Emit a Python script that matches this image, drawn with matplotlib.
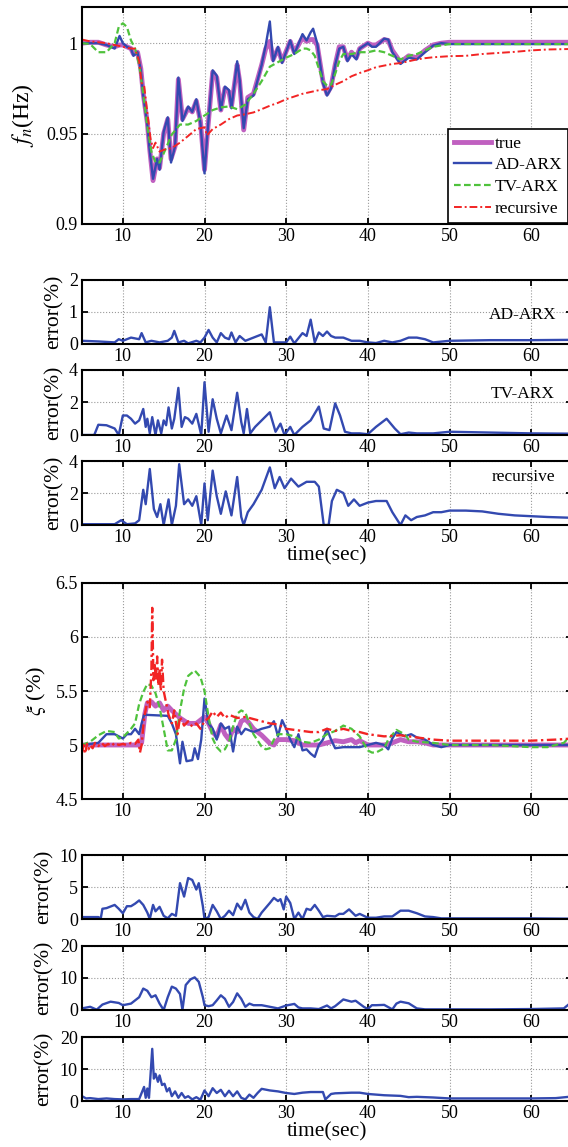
import matplotlib
matplotlib.use("Agg")
import matplotlib.pyplot as plt

plt.rcParams["font.family"] = ["Liberation Serif", "DejaVu Serif"]
plt.rcParams["mathtext.fontset"] = "stix"

# ---------------- natural frequency f_n (Hz) ----------------
t_fn_ad = [5, 6, 7, 8, 9, 9.6, 10, 10.5, 11, 11.3, 11.8, 12.2, 12.5, 13, 13.3, 13.7,
           14.2, 14.5, 15, 15.5, 15.9, 16.4, 16.8, 17.3, 18, 18.5, 19, 19.5, 20, 20.3,
           21, 21.5, 22, 22.5, 23, 23.3, 24, 24.3, 24.8, 25.3, 26, 27, 27.5, 28, 28.4,
           29, 29.5, 30.5, 31, 32, 32.5, 33, 33.3, 33.8, 34.5, 35, 35.5, 36, 36.5, 37,
           37.5, 38, 38.6, 39, 40, 40.5, 41, 42, 42.5, 43, 44, 45, 46, 47, 48, 49, 50,
           55, 60, 65]
fn_ad = [1.0, 1.0, 1.0, 0.999, 0.997, 1.004, 1.0, 0.998, 0.997, 0.993, 0.995, 0.985,
         0.971, 0.955, 0.94, 0.925, 0.936, 0.930, 0.951, 0.959, 0.934, 0.943, 0.981,
         0.957, 0.965, 0.962, 0.969, 0.956, 0.928, 0.947, 0.985, 0.982, 0.963, 0.976,
         0.974, 0.964, 0.990, 0.980, 0.953, 0.969, 0.971, 0.988, 0.999, 1.012, 0.990,
         0.998, 0.989, 1.0015, 0.994, 1.005, 1.0015, 1.006, 1.008, 1.0, 0.978, 0.971,
         0.975, 0.988, 0.997, 0.998, 0.990, 0.994, 0.991, 0.997, 1.0, 0.998, 0.998,
         1.0025, 1.002, 0.995, 0.9885, 0.992, 0.991, 0.995, 0.9987, 1.0, 0.9995,
         0.9995, 0.9995, 0.9995]
fn_true = [1.0, 1.0005, 1.0005, 0.999, 0.998, 0.999, 0.999, 0.998, 0.997, 0.994, 0.995,
           0.986, 0.972, 0.956, 0.941, 0.924, 0.936, 0.931, 0.950, 0.958, 0.936, 0.943,
           0.980, 0.958, 0.964, 0.962, 0.968, 0.957, 0.930, 0.947, 0.984, 0.981, 0.963,
           0.975, 0.973, 0.965, 0.988, 0.979, 0.952, 0.970, 0.972, 0.988, 0.997, 1.001,
           0.991, 0.997, 0.990, 1.001, 0.995, 1.003, 1.001, 1.002, 1.002, 0.999, 0.979,
           0.972, 0.976, 0.988, 0.998, 0.998, 0.991, 0.995, 0.992, 0.997, 1.0, 0.999,
           0.999, 1.002, 1.0015, 0.996, 0.9895, 0.993, 0.992, 0.996, 0.999, 1.0,
           1.0005, 1.0005, 1.0005, 1.0005]

t_fn_tv = [5, 6, 7, 8, 9, 9.5, 10, 10.5, 11, 11.5, 12, 12.5, 13, 13.5, 14, 14.5, 15,
           16, 17, 18, 19, 20, 21, 22, 23, 24, 25, 26, 27, 28, 29, 30, 31, 32, 32.5, 33,
           33.5, 34, 34.5, 35, 35.5, 36, 36.5, 37, 38, 39, 40, 41, 42, 43, 44, 45, 46,
           47, 48, 50, 55, 60, 65]
fn_tv = [1.0, 0.9995, 0.995, 0.995, 1.0, 1.009, 1.011, 1.009, 1.0015, 0.997, 0.988,
         0.972, 0.954, 0.940, 0.934, 0.934, 0.939, 0.9495, 0.955, 0.955, 0.957, 0.960,
         0.963, 0.9645, 0.965, 0.9635, 0.966, 0.972, 0.979, 0.987, 0.9895, 0.992,
         0.994, 0.997, 0.997, 0.996, 0.993, 0.986, 0.979, 0.9765, 0.977, 0.983, 0.990,
         0.994, 0.994, 0.995, 0.995, 0.996, 0.995, 0.993, 0.991, 0.993, 0.994, 0.996,
         0.998, 0.9995, 0.9995, 0.9995, 0.9995]

t_fn_rec = [5, 6, 8, 9, 10, 11, 11.5, 12, 12.3, 12.6, 13, 13.4, 13.7, 14, 14.5, 15,
            16, 17, 18, 19, 20, 20.3, 21, 22, 23, 24, 25, 26, 27, 28, 29, 30, 31, 32,
            33, 34, 35, 36, 37, 38, 39, 40, 41, 42, 43, 44, 45, 46, 47, 48, 50, 52, 54,
            56, 58, 60, 62, 65]
fn_rec = [1.002, 1.001, 1.0, 0.999, 0.998, 0.997, 0.997, 0.990, 0.978, 0.977, 0.9615,
          0.947, 0.942, 0.945, 0.940, 0.941, 0.942, 0.945, 0.9487, 0.9525, 0.9535,
          0.949, 0.9525, 0.955, 0.958, 0.960, 0.9607, 0.9617, 0.9635, 0.9654, 0.967,
          0.969, 0.9705, 0.972, 0.973, 0.974, 0.9746, 0.977, 0.979, 0.9817, 0.9835,
          0.985, 0.9867, 0.9876, 0.9885, 0.989, 0.990, 0.991, 0.9917, 0.9922, 0.9928,
          0.993, 0.994, 0.9946, 0.9952, 0.996, 0.9965, 0.9968]

# ---------------- f_n estimation errors (%) ----------------
t_efn_ad = [5, 7, 9, 9.5, 10, 11, 12, 12.3, 12.8, 13.5, 14.5, 15.5, 16, 16.3, 16.8, 17.5,
            18, 19, 19.5, 20, 20.5, 21, 21.5, 22, 22.5, 23, 23.3, 23.8, 24.3, 25, 26, 27,
            27.5, 28, 28.5, 29, 30, 30.5, 31, 32, 32.5, 33, 33.5, 34, 34.5, 35, 35.5, 36,
            37, 38, 39, 40, 41, 42, 43, 44, 45, 46, 47, 48, 50, 55, 60, 65]
efn_ad = [0.1, 0.08, 0.05, 0.15, 0.1, 0.2, 0.15, 0.34, 0.05, 0.1, 0.05, 0.1, 0.2, 0.41,
          0.05, 0.1, 0.02, 0.1, 0.05, 0.2, 0.44, 0.2, 0.05, 0.34, 0.2, 0.15, 0.36, 0.05,
          0.25, 0.1, 0.2, 0.3, 0.05, 1.15, 0.05, 0.05, 0.05, 0.23, 0.02, 0.34, 0.25,
          0.76, 0.05, 0.36, 0.25, 0.39, 0.25, 0.2, 0.2, 0.1, 0.1, 0.05, 0.03, 0.1, 0.05,
          0.1, 0.2, 0.2, 0.15, 0.05, 0.1, 0.12, 0.12, 0.13]

t_efn_tv = [5, 6.5, 7, 8, 9, 9.5, 10, 10.5, 11, 11.5, 12, 12.5, 12.8, 13, 13.3, 13.6, 14,
            14.3, 14.7, 15, 15.3, 15.6, 16, 16.3, 16.8, 17.2, 17.6, 18, 18.5, 19, 19.6,
            20, 20.5, 21, 21.5, 22, 22.7, 23.3, 24, 24.5, 24.8, 25.2, 25.6, 26.2, 27,
            28, 28.7, 29.3, 29.8, 30.5, 31, 32, 33, 34, 34.6, 35.3, 36, 36.6, 37.2, 38,
            39, 40, 41, 42.3, 43.3, 44, 45, 46, 48, 50, 55, 60, 65]
efn_tv = [0.0, 0.0, 0.63, 0.6, 0.4, 0.0, 1.2, 1.2, 1.0, 0.7, 0.9, 1.6, 0.5, 1.0, 0.1,
          1.1, 0.0, 0.9, 0.1, 0.9, 0.6, 1.7, 0.4, 1.0, 2.9, 0.5, 1.1, 1.0, 0.7, 1.3,
          0.0, 3.25, 0.2, 2.2, 1.0, 0.1, 1.2, 0.3, 2.6, 0.8, 0.1, 1.6, 0.1, 0.5, 0.9,
          1.4, 0.2, 0.7, 0.0, 0.5, 0.0, 0.5, 0.9, 1.75, 0.4, 0.3, 1.95, 1.2, 0.2, 0.1,
          0.1, 0.05, 0.5, 1.0, 0.4, 0.05, 0.15, 0.1, 0.1, 0.2, 0.15, 0.1, 0.08]

t_efn_rec = [5, 9, 9.8, 10.5, 11.5, 12, 12.5, 12.8, 13.3, 13.8, 14.2, 14.6, 15, 15.6, 16,
             16.5, 16.9, 17.5, 18, 18.5, 19, 19.6, 20, 20.4, 21, 21.5, 22, 22.6, 23.3,
             24, 24.5, 24.8, 25.3, 26, 27, 28, 28.6, 29.2, 29.8, 30.6, 31.5, 32.5, 33.5,
             34, 34.6, 35.2, 35.6, 36.2, 37, 37.6, 38.3, 39, 40, 41, 42.3, 43, 44, 44.6,
             45.3, 46, 47, 48, 49, 50, 52, 54, 56, 58, 60, 62, 65]
efn_rec = [0.05, 0.05, 0.3, 0.05, 0.1, 0.3, 2.2, 1.3, 3.5, 1.0, 0.5, 1.3, 0.0, 1.6, 0.0,
           1.2, 3.8, 1.3, 1.6, 1.2, 1.8, 0.0, 2.6, 0.3, 3.4, 1.8, 0.7, 2.1, 0.6, 3.0,
           0.5, 0.0, 0.8, 1.3, 2.2, 3.6, 2.3, 3.0, 2.3, 2.9, 2.4, 2.7, 2.7, 2.4, 0.0,
           0.0, 1.5, 2.2, 2.0, 1.2, 1.6, 1.2, 1.4, 1.5, 1.5, 0.8, 0.0, 0.6, 0.3, 0.5,
           0.6, 0.8, 0.8, 0.9, 0.9, 0.85, 0.7, 0.6, 0.55, 0.5, 0.45]

# ---------------- damping ratio xi (%) ----------------
t_xi_true = [5, 8, 12, 12.3, 12.7, 13, 13.5, 14, 14.5, 15, 15.5, 16, 17, 18, 19, 20,
             20.5, 21, 21.5, 22, 22.5, 23, 23.5, 24, 24.5, 25, 25.5, 26, 27, 28, 28.5,
             29, 30, 31, 32, 33, 34, 35, 36, 37, 38, 38.5, 39, 40, 41, 42, 43, 44, 45,
             46, 47, 48, 50, 55, 60, 65]
xi_true = [5.0, 5.0, 5.0, 5.02, 5.29, 5.39, 5.40, 5.36, 5.39, 5.32, 5.36, 5.32, 5.25,
           5.2, 5.2, 5.26, 5.2, 5.12, 5.08, 5.185, 5.10, 5.05, 5.15, 5.12, 5.22, 5.24,
           5.2, 5.15, 5.09, 5.015, 5.0, 5.05, 5.05, 5.04, 5.0, 5.0, 5.0, 5.02, 5.04,
           5.03, 5.05, 5.02, 5.04, 5.0, 5.0, 5.0, 5.02, 5.05, 5.03, 5.03, 5.02, 5.0,
           5.0, 5.0, 5.0, 5.0]

t_xi_ad = [5, 7, 8, 9, 10, 10.5, 11, 11.5, 12, 12.3, 12.6, 15.5, 16, 16.5, 17, 17.3,
           17.8, 18.5, 18.8, 19.2, 19.6, 20, 20.5, 21, 21.5, 22, 22.5, 23, 23.5, 24,
           24.5, 25, 26, 27, 28, 28.5, 29, 29.5, 30, 30.5, 31, 31.5, 32, 32.5, 33, 33.5,
           34, 34.5, 35, 35.5, 36, 37, 38, 39, 40, 41, 42, 42.5, 43, 43.5, 44, 44.5,
           45.3, 46, 47, 48, 49, 50, 60, 65]
xi_ad = [5.0, 5.02, 5.1, 5.1, 5.06, 5.1, 5.1, 5.15, 5.1, 5.2, 5.28, 5.27, 5.2, 5.1,
         4.83, 5.03, 4.85, 4.86, 4.97, 4.87, 5.05, 5.43, 5.2, 5.15, 5.05, 5.2, 5.15,
         5.17, 4.94, 5.17, 5.1, 5.15, 5.12, 5.15, 5.17, 5.22, 5.08, 5.23, 5.15, 5.05,
         4.98, 5.1, 4.95, 4.96, 4.92, 4.89, 5.0, 5.05, 5.15, 5.05, 4.97, 4.98, 4.98,
         4.98, 5.0, 5.02, 5.0, 4.96, 5.06, 5.12, 5.1, 5.08, 5.1, 5.07, 5.05, 5.0, 4.98,
         5.0, 5.0, 5.0]

t_xi_tv = [5, 6, 7, 8, 9, 9.5, 10, 11, 11.5, 12, 12.5, 13, 13.5, 14, 14.5, 15, 15.5, 16,
           16.5, 17, 17.5, 18, 18.8, 19.5, 20, 20.5, 21, 21.5, 22, 22.5, 23, 23.5, 24,
           24.5, 25, 25.5, 26, 27, 27.5, 28, 28.5, 29, 30, 31, 32, 33, 34, 35, 36, 37,
           38, 39, 40, 40.5, 41, 42, 42.5, 43.5, 44.5, 45, 46, 48, 50, 55, 60, 62, 64,
           65]
xi_tv = [5.0, 5.03, 5.09, 5.13, 5.12, 5.06, 5.07, 5.15, 5.2, 5.38, 5.49, 5.565, 5.55,
         5.48, 5.35, 5.15, 4.95, 4.95, 5.05, 5.32, 5.52, 5.64, 5.69, 5.63, 5.5, 5.26,
         5.06, 4.98, 4.94, 4.96, 5.03, 5.17, 5.29, 5.32, 5.3, 5.2, 5.1, 4.985, 4.96,
         4.97, 5.05, 5.1, 5.1, 5.08, 5.03, 5.02, 5.05, 5.1, 5.13, 5.18, 5.15, 5.08,
         4.95, 4.93, 4.93, 4.97, 5.05, 5.14, 5.1, 5.05, 5.03, 5.02, 5.0, 5.0, 4.98,
         4.98, 5.02, 5.1]

t_xi_rec = [5, 5.2, 5.4, 5.6, 5.8, 6, 6.3, 6.6, 7, 7.4, 7.8, 8.2, 8.6, 9, 9.5, 10, 10.5,
            11, 11.5, 11.9, 12.1, 12.3, 12.6, 13, 13.3, 13.5, 13.6, 13.75, 13.9, 14.05,
            14.2, 14.35, 14.5, 14.65, 14.8, 15, 15.3, 15.6, 16, 16.3, 16.7, 17, 17.5, 18,
            18.5, 19, 19.5, 20, 20.5, 21, 21.5, 22, 22.5, 23, 24, 25, 26, 27, 28, 29, 30,
            31, 32, 33, 34, 35, 36, 37, 38, 39, 40, 42, 44, 46, 48, 50, 55, 60, 63, 65]
xi_rec = [4.93, 5.0, 4.92, 5.01, 4.96, 5.0, 4.97, 5.02, 4.99, 5.02, 4.99, 5.01, 4.99,
          5.02, 5.0, 5.01, 5.0, 5.02, 5.01, 5.05, 4.93, 5.0, 5.25, 5.4, 5.35, 5.7, 6.27,
          5.6, 5.75, 5.6, 5.82, 5.55, 5.7, 5.5, 5.79, 5.5, 5.39, 5.28, 5.2, 5.32, 5.1,
          5.26, 5.18, 5.22, 5.17, 5.2, 5.15, 5.22, 5.25, 5.31, 5.26, 5.3, 5.25, 5.28,
          5.25, 5.26, 5.24, 5.22, 5.2, 5.19, 5.15, 5.14, 5.13, 5.12, 5.12, 5.15, 5.13,
          5.15, 5.13, 5.12, 5.1, 5.08, 5.09, 5.07, 5.05, 5.04, 5.04, 5.04, 5.05, 5.06]

# ---------------- xi estimation errors (%) ----------------
t_exi_ad = [5, 7, 7.3, 7.5, 8, 9, 9.5, 10, 10.5, 11, 11.5, 12, 12.5, 13, 13.3, 13.7, 14,
            14.5, 15, 15.5, 16, 16.5, 17, 17.5, 18, 18.5, 19, 19.3, 19.8, 20, 20.5, 21,
            21.5, 22, 22.5, 23, 23.5, 24, 24.5, 25, 25.5, 26, 26.5, 27, 28, 28.5, 29,
            29.3, 29.7, 30, 30.5, 31, 31.5, 32, 32.5, 33, 33.5, 34, 34.5, 35, 36, 36.5,
            37, 37.7, 38.5, 39, 40, 41, 42, 43, 44, 45, 46, 47, 48, 49, 50, 60, 65]
exi_ad = [0.3, 0.3, 0.1, 1.6, 1.7, 2.2, 1.6, 0.9, 2.0, 2.0, 2.4, 2.9, 2.2, 1.0, 0.0,
          2.2, 1.2, 1.9, 0.5, 0.1, 0.8, 0.5, 5.6, 3.5, 6.4, 6.1, 4.6, 5.6, 2.0, 0.0,
          0.3, 2.2, 1.2, 0.0, 0.5, 1.3, 0.6, 2.4, 1.5, 3.0, 1.0, 0.3, 0.0, 1.0, 2.5,
          3.3, 2.8, 3.1, 1.5, 3.5, 2.5, 0.0, 1.0, 0.0, 1.6, 1.4, 2.2, 1.3, 0.3, 0.5,
          0.4, 0.8, 0.8, 1.5, 0.5, 0.8, 0.2, 0.2, 0.4, 0.4, 1.3, 1.3, 0.9, 0.4, 0.3,
          0.1, 0.1, 0.1, 0.05]

t_exi_tv = [5, 6, 6.8, 7.5, 8.5, 9.5, 10, 11, 12, 12.5, 13, 13.5, 14, 14.5, 15, 15.5, 16,
            16.5, 17, 17.3, 17.7, 18.3, 18.8, 19.3, 19.8, 20, 20.5, 21, 21.5, 22, 22.5,
            23, 23.5, 24, 24.5, 25, 25.5, 26, 27, 28, 29, 30, 31, 31.5, 32, 33, 34, 35,
            35.5, 36, 37, 38, 38.5, 39.5, 40, 40.5, 41, 42, 43, 43.5, 44, 45, 46, 47,
            50, 55, 60, 64, 65]
exi_tv = [0.5, 1.0, 0.1, 1.7, 2.6, 2.2, 1.5, 2.0, 4.0, 6.7, 6.0, 4.0, 4.6, 2.0, 0.0,
          4.0, 7.3, 6.7, 5.0, 0.0, 7.8, 9.6, 10.2, 8.8, 4.0, 1.5, 1.2, 1.5, 3.0, 4.6,
          3.5, 1.0, 2.5, 5.2, 3.5, 1.0, 2.0, 1.5, 1.5, 1.0, 0.5, 1.4, 1.9, 0.8, 0.5,
          0.5, 0.3, 1.4, 0.5, 1.2, 3.3, 2.6, 2.9, 1.0, 0.3, 1.5, 1.5, 1.6, 0.2, 2.0,
          2.6, 2.1, 0.5, 0.2, 0.2, 0.2, 0.3, 0.5, 2.6]

t_exi_rec = [5, 5.5, 6, 7, 8, 9, 10, 11, 12, 12.3, 12.6, 12.8, 13, 13.2, 13.4, 13.6, 13.8,
             14, 14.3, 14.5, 14.8, 15.1, 15.4, 15.7, 16, 16.4, 16.8, 17.2, 17.6, 18,
             18.5, 19, 19.5, 20, 20.5, 21, 21.5, 22, 22.5, 23, 23.5, 24, 24.5, 25, 25.5,
             26, 26.5, 27, 28, 29, 30, 31, 32, 33, 34, 34.5, 34.8, 35.5, 36, 38, 39, 40,
             42, 44, 45, 46, 48, 50, 55, 60, 63, 65]
exi_rec = [1.5, 0.8, 0.9, 0.6, 0.8, 0.6, 0.5, 0.6, 0.6, 2.5, 4.4, 1.0, 3.9, 1.0, 8.5,
           16.3, 7.0, 8.5, 6.0, 8.0, 5.0, 5.4, 3.0, 4.0, 1.5, 3.0, 1.0, 2.5, 1.0, 1.5,
           0.5, 1.2, 0.4, 3.3, 1.5, 4.0, 2.5, 3.5, 1.5, 3.2, 1.5, 3.0, 1.0, 0.5, 2.0,
           1.0, 2.5, 3.8, 3.3, 3.0, 2.5, 2.2, 2.6, 2.8, 2.8, 2.8, 0.5, 2.2, 2.4, 2.6,
           2.6, 2.2, 1.8, 1.6, 1.2, 1.3, 1.1, 0.8, 0.8, 0.8, 0.9, 1.4]

xticks = [10, 20, 30, 40, 50, 60]
c_true, c_ad, c_tv, c_rec = "#c060c0", "#3349b0", "#4fc23c", "#f22424"

W, H = 568, 1147
fig = plt.figure(figsize=(W / 100, H / 100), dpi=100)


def make_axes(top, bottom):
    left, right = 82, 572
    return fig.add_axes([left / W, 1 - bottom / H, (right - left) / W, (bottom - top) / H])


def style(ax, ylim, yticks, ylabels):
    ax.set_xlim(5, 65)
    ax.set_ylim(*ylim)
    ax.set_xticks(xticks)
    ax.set_yticks(yticks)
    ax.set_yticklabels(ylabels)
    ax.grid(True, linestyle=":", color="#9a9a9a", linewidth=0.8)
    ax.tick_params(direction="in", top=True, right=True, length=4, width=1.3,
                   labelsize=13, pad=3)
    for s in ax.spines.values():
        s.set_linewidth(1.5)


def place_ylabel(ax, right_px):
    # label anchor is the right edge of the rotated text, in pixels from the figure left
    ax.yaxis.set_label_coords((right_px - 82) / 490, 0.5)


# panel 1: f_n
ax = make_axes(7, 224)
ax.plot(t_fn_ad, fn_true, color=c_true, lw=3.5, label="true")
ax.plot(t_fn_ad, fn_ad, color=c_ad, lw=1.7, label="AD-ARX")
ax.plot(t_fn_tv, fn_tv, color=c_tv, lw=1.6, ls=(0, (3, 1.5)), label="TV-ARX")
ax.plot(t_fn_rec, fn_rec, color=c_rec, lw=1.4, ls=(0, (4, 1.5, 1, 1.5)), label="recursive")
style(ax, (0.9, 1.02), [0.9, 0.95, 1.0], ["0.9", "0.95", "1"])
ax.set_ylabel("$f_n$(Hz)", fontsize=17)
place_ylabel(ax, 36)
leg = ax.legend(loc="lower left", bbox_to_anchor=(0.747, 0.005), fancybox=False,
                edgecolor="k", framealpha=1, fontsize=12.5, handlelength=2.1,
                labelspacing=0.32, borderpad=0.35, handletextpad=0.25, borderaxespad=0)
leg.get_frame().set_linewidth(1.2)

# panels 2-4: f_n errors
err_fn = [(280, 344, t_efn_ad, efn_ad, (0, 2), [0, 1, 2], "AD-ARX", 0.9),
          (370, 435, t_efn_tv, efn_tv, (0, 4), [0, 2, 4], "TV-ARX", 2.5),
          (461, 525, t_efn_rec, efn_rec, (0, 4), [0, 2, 4], "recursive", 3.0)]
for top, bottom, tt, vv, ylim, yt, name, ypos in err_fn:
    ax = make_axes(top, bottom)
    ax.plot(tt, vv, color=c_ad, lw=1.7)
    style(ax, ylim, yt, [str(v) for v in yt])
    ax.set_ylabel("error(%)", fontsize=15.5)
    place_ylabel(ax, 64)
    ax.text(59, ypos, name, fontsize=12.5, ha="center", va="center")
ax.set_xlabel("time(sec)", fontsize=15.5, labelpad=0)

# panel 5: xi
ax = make_axes(583, 799)
ax.plot(t_xi_true, xi_true, color=c_true, lw=3.5)
ax.plot(t_xi_ad, xi_ad, color=c_ad, lw=1.7)
ax.plot(t_xi_tv, xi_tv, color=c_tv, lw=1.6, ls=(0, (3, 1.5)))
ax.plot(t_xi_rec, xi_rec, color=c_rec, lw=1.7, ls=(0, (4, 1.5, 1, 1.5)))
style(ax, (4.5, 6.5), [4.5, 5, 5.5, 6, 6.5], ["4.5", "5", "5.5", "6", "6.5"])
ax.set_ylabel(r"$\xi$ (%)", fontsize=16)
place_ylabel(ax, 48)

# panels 6-8: xi errors
err_xi = [(855, 919, t_exi_ad, exi_ad, (0, 10), [0, 5, 10]),
          (946, 1010, t_exi_tv, exi_tv, (0, 20), [0, 10, 20]),
          (1037, 1101, t_exi_rec, exi_rec, (0, 20), [0, 10, 20])]
for top, bottom, tt, vv, ylim, yt in err_xi:
    ax = make_axes(top, bottom)
    ax.plot(tt, vv, color=c_ad, lw=1.7)
    style(ax, ylim, yt, [str(v) for v in yt])
    ax.set_ylabel("error(%)", fontsize=15.5)
    place_ylabel(ax, 54)
ax.set_xlabel("time(sec)", fontsize=15.5, labelpad=0)

fig.savefig("out.png", dpi=100)
